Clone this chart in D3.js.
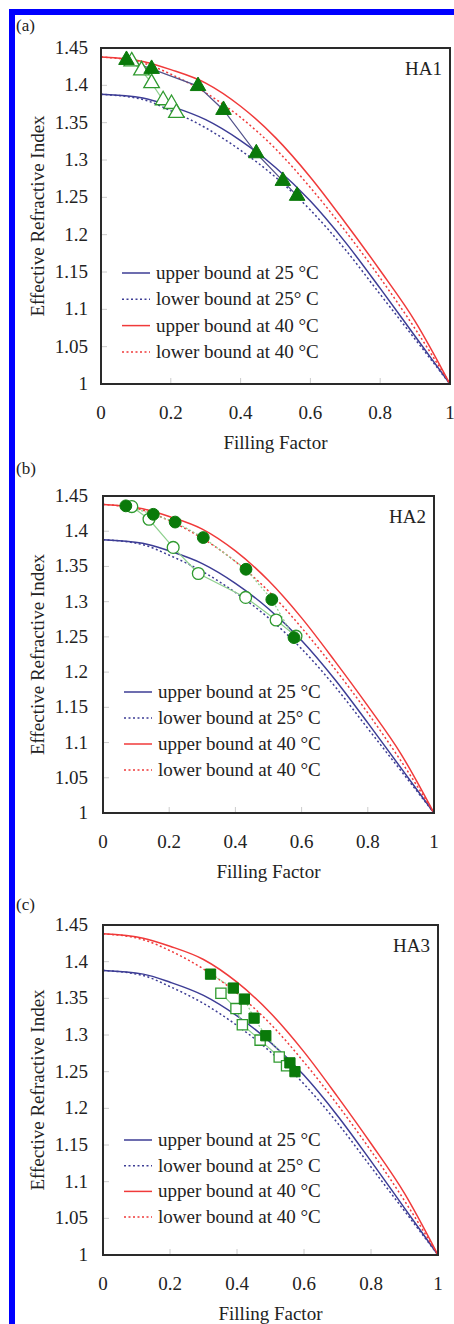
<!DOCTYPE html>
<html>
<head>
<meta charset="utf-8">
<script src="https://cdn.jsdelivr.net/npm/d3@7"></script>
<style>
  body { margin: 0; background: #fff; }
  svg { display: block; }
</style>
</head>
<body>
<div id="chart"></div>
<script>
// Effective refractive index vs filling factor, three samples (HA1-HA3)

////////////////////////////////////////////////////////////////////////
// Data

// theoretical bounds, sampled along the filling factor
let fillGrid = [0, 0.12, 0.2, 0.3, 0.4, 0.5, 0.6, 0.7, 0.8, 0.9, 1];
let upper25 = [1.388, 1.383, 1.372, 1.354, 1.326, 1.290, 1.245, 1.190, 1.128, 1.064, 1];
let lower25 = [1.388, 1.381, 1.366, 1.343, 1.313, 1.277, 1.233, 1.180, 1.120, 1.060, 1];
let upper40 = [1.438, 1.432, 1.421, 1.403, 1.372, 1.330, 1.277, 1.216, 1.152, 1.084, 1];
let lower40 = [1.438, 1.430, 1.415, 1.390, 1.357, 1.315, 1.263, 1.205, 1.142, 1.074, 1];

// HA1 (triangles)
let ha1FilledF = [0.073, 0.145, 0.278, 0.351, 0.445, 0.521, 0.562];
let ha1FilledN = [1.434, 1.422, 1.399, 1.367, 1.309, 1.272, 1.252];
let ha1OpenF = [0.088, 0.116, 0.145, 0.178, 0.202, 0.216];
let ha1OpenN = [1.432, 1.420, 1.403, 1.380, 1.375, 1.363];

// HA2 (circles)
let ha2FilledF = [0.069, 0.152, 0.218, 0.303, 0.432, 0.510, 0.577];
let ha2FilledN = [1.436, 1.424, 1.413, 1.391, 1.346, 1.303, 1.249];
let ha2OpenF = [0.087, 0.139, 0.212, 0.288, 0.431, 0.523, 0.583];
let ha2OpenN = [1.435, 1.417, 1.377, 1.340, 1.306, 1.274, 1.251];

// HA3 (squares)
let ha3FilledF = [0.321, 0.389, 0.422, 0.451, 0.486, 0.558, 0.573];
let ha3FilledN = [1.383, 1.364, 1.349, 1.323, 1.299, 1.262, 1.250];
let ha3OpenF = [0.352, 0.397, 0.416, 0.469, 0.526, 0.548];
let ha3OpenN = [1.357, 1.336, 1.314, 1.293, 1.270, 1.258];

let xTicks = [0, 0.2, 0.4, 0.6, 0.8, 1];
let yTicks = [1, 1.05, 1.1, 1.15, 1.2, 1.25, 1.3, 1.35, 1.4, 1.45];
let legendLabels = ["upper bound at 25 °C", "lower bound at 25° C",
                    "upper bound at 40 °C", "lower bound at 40 °C"];

////////////////////////////////////////////////////////////////////////
// Layout

let width = 454, height = 1324;
let blue = "#3d3d95", red = "#f03a3a", green = "#0a7a0a", lightGreen = "#8fd08f";
let serif = "'Liberation Serif', 'DejaVu Serif', serif";

let svg = d3.select("#chart").append("svg")
  .attr("width", width)
  .attr("height", height)
  .attr("font-family", serif)
  .style("font-family", serif);

// blue frame round the figure (left and top only)
svg.append("rect").attr("x", 9).attr("y", 9).attr("width", 6).attr("height", height - 9).attr("fill", "#0000ff");
svg.append("rect").attr("x", 9).attr("y", 9).attr("width", width - 9).attr("height", 6).attr("fill", "#0000ff");

let panels = [
  {tag: "(a)", tagY: 31, name: "HA1", left: 101, right: 450, top: 48, bottom: 384,
   legendY: 273, legendGap: 26.3, shape: d3.symbolTriangle, size: 105,
   filled: [ha1FilledF, ha1FilledN], open: [ha1OpenF, ha1OpenN], filledLine: "#52528a"},
  {tag: "(b)", tagY: 474, name: "HA2", left: 103, right: 434, top: 496, bottom: 813,
   legendY: 692, legendGap: 26, shape: d3.symbolCircle, size: 110,
   filled: [ha2FilledF, ha2FilledN], open: [ha2OpenF, ha2OpenN], filledLine: lightGreen},
  {tag: "(c)", tagY: 910, name: "HA3", left: 103, right: 438, top: 925, bottom: 1255,
   legendY: 1140, legendGap: 25.7, shape: d3.symbolSquare, size: 105,
   filled: [ha3FilledF, ha3FilledN], open: [ha3OpenF, ha3OpenN], filledLine: lightGreen}
];

panels.forEach(drawPanel);

function drawPanel(p) {
  let x = d3.scaleLinear().domain([0, 1]).range([p.left, p.right]);
  let y = d3.scaleLinear().domain([1, 1.45]).range([p.bottom, p.top]);
  let g = svg.append("g").attr("fill", "#222");

  g.append("text").attr("x", 16).attr("y", p.tagY)
    .style("font-size", "17px").text(p.tag);

  // small inward ticks
  g.selectAll(".yt").data(yTicks.slice(1, -1)).enter().append("line")
    .attr("x1", p.left).attr("x2", p.left + 6)
    .attr("y1", d => y(d)).attr("y2", d => y(d))
    .attr("stroke", "#ccc").attr("stroke-width", 1);
  g.selectAll(".xt").data(xTicks.slice(1, -1)).enter().append("line")
    .attr("x1", d => x(d)).attr("x2", d => x(d))
    .attr("y1", p.bottom).attr("y2", p.bottom - 6)
    .attr("stroke", "#ccc").attr("stroke-width", 1);

  // tick labels
  g.selectAll(".yl").data(yTicks).enter().append("text")
    .attr("x", 88).attr("y", d => y(d) + 6)
    .attr("text-anchor", "end").style("font-size", "19px")
    .text(d => d3.format("")(+d.toFixed(2)));
  g.selectAll(".xl").data(xTicks).enter().append("text")
    .attr("x", d => x(d)).attr("y", p.bottom + 35)
    .attr("text-anchor", "middle").style("font-size", "19px")
    .text(d => d3.format("")(+d.toFixed(1)));

  // axis titles
  g.append("text").attr("x", (p.left + p.right) / 2).attr("y", p.bottom + 65)
    .attr("text-anchor", "middle").style("font-size", "19px").text("Filling Factor");
  g.append("text")
    .attr("transform", "translate(44," + ((p.top + p.bottom) / 2) + ") rotate(-90)")
    .attr("text-anchor", "middle").style("font-size", "19px")
    .text("Effective Refractive Index");

  g.append("text").attr("x", p.right - 8).attr("y", p.top + 27)
    .attr("text-anchor", "end").style("font-size", "19px").text(p.name);

  // theoretical bounds
  let curves = [
    {vals: upper25, color: blue, dash: null},
    {vals: lower25, color: blue, dash: "2,2.5"},
    {vals: upper40, color: red, dash: null},
    {vals: lower40, color: red, dash: "2,2.5"}
  ];
  let smooth = d3.line().x(d => x(d[0])).y(d => y(d[1])).curve(d3.curveMonotoneX);
  let line = d3.line().x(d => x(d[0])).y(d => y(d[1]));
  curves.forEach(c => {
    g.append("path")
      .attr("d", smooth(fillGrid.map((f, i) => [f, c.vals[i]])))
      .attr("fill", "none").attr("stroke", c.color)
      .attr("stroke-width", 1.5)
      .attr("stroke-dasharray", c.dash);
  });

  // measured data
  let openPts = p.open[0].map((f, i) => [f, p.open[1][i]]);
  let filledPts = p.filled[0].map((f, i) => [f, p.filled[1][i]]);

  g.append("path").attr("d", line(openPts))
    .attr("fill", "none").attr("stroke", lightGreen).attr("stroke-width", 1.2);
  g.append("path").attr("d", line(filledPts))
    .attr("fill", "none").attr("stroke", p.filledLine).attr("stroke-width", 1.2)
    .attr("stroke-dasharray", p.name == "HA1" ? null : "2,2");

  let sym = d3.symbol().type(p.shape).size(p.size);
  g.selectAll(".op").data(openPts).enter().append("path")
    .attr("d", sym)
    .attr("transform", d => "translate(" + x(d[0]) + "," + y(d[1]) + ")")
    .attr("fill", "#fff").attr("stroke", "#2f9a2f").attr("stroke-width", 1.3);
  g.selectAll(".fp").data(filledPts).enter().append("path")
    .attr("d", sym)
    .attr("transform", d => "translate(" + x(d[0]) + "," + y(d[1]) + ")")
    .attr("fill", green).attr("stroke", green).attr("stroke-width", 1);

  // legend
  curves.forEach((c, i) => {
    let ly = p.legendY + i * p.legendGap;
    g.append("line").attr("x1", p.left + 21).attr("x2", p.left + 49)
      .attr("y1", ly).attr("y2", ly)
      .attr("stroke", c.color).attr("stroke-width", 1.5)
      .attr("stroke-dasharray", c.dash);
    g.append("text").attr("x", p.left + 55).attr("y", ly + 6)
      .style("font-size", "19px").text(legendLabels[i]);
  });

  // plot frame
  g.append("rect")
    .attr("x", p.left).attr("y", p.top)
    .attr("width", p.right - p.left).attr("height", p.bottom - p.top)
    .attr("fill", "none").attr("stroke", "#2a2a2a").attr("stroke-width", 2);
}
</script>
</body>
</html>
